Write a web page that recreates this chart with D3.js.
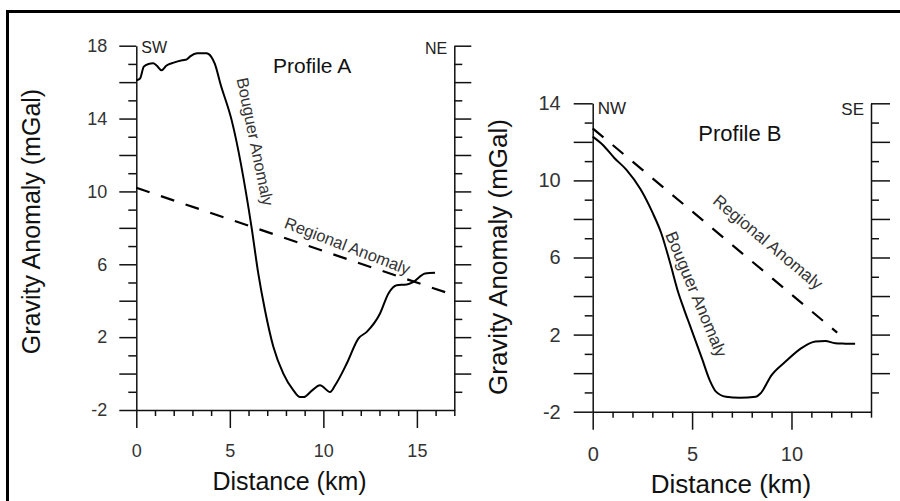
<!DOCTYPE html>
<html>
<head>
<meta charset="utf-8">
<script src="https://cdn.jsdelivr.net/npm/d3@7"></script>
<style>
  body { margin: 0; background: #fff; }
  svg { display: block; font-family: Arial, "Liberation Sans", sans-serif; }
  .tick text { fill: #333; }
</style>
</head>
<body>
<script>
// profile A (SW - NE), distance km / mGal
const bouguerA = [
  [0, 16.1], [0.2, 16.2], [0.4, 16.85], [0.65, 17.0], [0.9, 17.03], [1.1, 16.9],
  [1.35, 16.65], [1.6, 16.9], [2.0, 17.07], [2.45, 17.2], [2.7, 17.25], [2.9, 17.43],
  [3.25, 17.58], [3.75, 17.58], [4.0, 17.4], [4.2, 17.0], [4.5, 15.9], [5.1, 13.9],
  [6.16, 8.04], [6.52, 5.5], [6.88, 3.48], [7.33, 1.46], [7.86, 0.0], [8.4, -0.92],
  [8.75, -1.29], [8.95, -1.29], [9.4, -0.92], [9.82, -0.64], [10.36, -1.01], [10.63, -0.64],
  [11.25, 0.55], [11.87, 1.92], [12.32, 2.29], [13.03, 3.3], [13.48, 4.4], [13.92, 4.85],
  [14.46, 4.89], [14.81, 5.03], [15.44, 5.49], [15.97, 5.53]
];
const regionalA = [[0, 10.2], [17, 4.3]];

// profile B (NW - SE)
const bouguerB = [
  [0, 12.27], [0.5, 11.85], [1.1, 11.15], [1.7, 10.55], [2.4, 9.55], [3.0, 8.35],
  [3.45, 7.26], [3.9, 5.7], [4.3, 4.2], [4.6, 3.3], [4.9, 2.45], [5.5, 0.75],
  [5.9, -0.4], [6.2, -0.96], [6.7, -1.22], [7.4, -1.27], [8.2, -1.22], [8.45, -1.04],
  [9.0, -0.1], [9.7, 0.6], [10.5, 1.3], [11.2, 1.64], [11.7, 1.67], [12.2, 1.55],
  [12.7, 1.53], [13.2, 1.52]
];
const regionalB = [[0, 12.7], [12.3, 2.1]];

const yLabelsA = [-2, 2, 6, 10, 14, 18];
const yLabelsB = [-2, 2, 6, 10, 14];
const xLabelsA = [0, 5, 10, 15];
const xLabelsB = [0, 5, 10];

const svg = d3.select('body').append('svg').attr('width', 900).attr('height', 501);

// frame (only top and left edges show)
svg.append('path').attr('d', 'M7.5,501V11.5H900')
  .attr('fill', 'none').attr('stroke', '#000').attr('stroke-width', 3);

function drawPanel(p) {
  const x = d3.scaleLinear().domain(p.xDom).range(p.xRange);
  const y = d3.scaleLinear().domain(p.yDom).range(p.yRange);
  const g = svg.append('g');

  const yMajor = d3.range(p.yDom[0], p.yDom[1] + 0.1, 2);
  const yMinor = d3.range(p.yDom[0] + 1, p.yDom[1], 2);
  const xMajor = d3.range(0, p.xDom[1] + 0.1, 5);
  const xMinor = d3.range(1, p.xDom[1] + 0.1, 1).filter(d => d % 5 != 0);

  const fmt = labels => d => labels.includes(d) ? String(d) : '';

  // left axis
  g.append('g').attr('transform', `translate(${p.xRange[0]},0)`)
    .call(d3.axisLeft(y).tickValues(yMajor).tickSize(p.major).tickSizeOuter(0)
      .tickPadding(p.yPad).tickFormat(fmt(p.yLabels)))
    .call(a => a.selectAll('text').attr('font-size', p.tickFont));
  g.append('g').attr('transform', `translate(${p.xRange[0]},0)`)
    .call(d3.axisLeft(y).tickValues(yMinor).tickSize(8).tickFormat(''))
    .call(a => a.select('.domain').remove());

  // right axis, no labels
  g.append('g').attr('transform', `translate(${p.xRange[1]},0)`)
    .call(d3.axisRight(y).tickValues(yMajor.filter(d => d > p.yDom[0])).tickSize(p.major).tickSizeOuter(0).tickFormat(''));
  g.append('g').attr('transform', `translate(${p.xRange[1]},0)`)
    .call(d3.axisRight(y).tickValues(yMinor).tickSize(8).tickFormat(''))
    .call(a => a.select('.domain').remove());

  // bottom axis
  g.append('g').attr('transform', `translate(0,${p.yRange[0]})`)
    .call(d3.axisBottom(x).tickValues(xMajor).tickSize(18).tickSizeOuter(0)
      .tickPadding(p.xPad).tickFormat(fmt(p.xLabels)))
    .call(a => a.selectAll('text').attr('font-size', p.tickFont));
  g.append('g').attr('transform', `translate(0,${p.yRange[0]})`)
    .call(d3.axisBottom(x).tickValues(xMinor).tickSize(6).tickFormat(''))
    .call(a => a.select('.domain').remove());

  g.selectAll('.domain, .tick line').attr('stroke', '#111').attr('stroke-width', 1.5);

  const line = d3.line().x(d => x(d[0])).y(d => y(d[1]));

  g.append('path').datum(p.regional).attr('d', line)
    .attr('fill', 'none').attr('stroke', '#000').attr('stroke-width', 2.2)
    .attr('stroke-dasharray', '14,12');
  g.append('path').datum(p.bouguer).attr('d', line.curve(d3.curveMonotoneX))
    .attr('fill', 'none').attr('stroke', '#000').attr('stroke-width', 2);

  // axis titles
  g.append('text').attr('x', p.xTitle[0]).attr('y', p.xTitle[1])
    .attr('text-anchor', 'middle').attr('font-size', p.titleFont).attr('fill', '#111')
    .text('Distance (km)');
  g.append('text').attr('transform', `translate(${p.yTitle[0]},${p.yTitle[1]}) rotate(-90)`)
    .attr('text-anchor', 'middle').attr('font-size', p.titleFont).attr('fill', '#111')
    .text('Gravity Anomaly (mGal)');

  // direction labels and profile name
  g.append('text').attr('x', p.xRange[0] + 5).attr('y', p.dirY)
    .attr('font-size', p.dirFont).attr('fill', '#222').text(p.dirs[0]);
  g.append('text').attr('x', p.xRange[1] - 7).attr('y', p.dirY + 1)
    .attr('text-anchor', 'end').attr('font-size', p.dirFont).attr('fill', '#222').text(p.dirs[1]);
  g.append('text').attr('x', p.name[0]).attr('y', p.name[1])
    .attr('font-size', p.nameFont).attr('fill', '#111').text(p.name[2]);

  // curve annotations
  p.notes.forEach(n => {
    g.append('text').attr('transform', `translate(${n[0]},${n[1]}) rotate(${n[2]})`)
      .attr('font-size', n[3]).attr('fill', '#333').text(n[4]);
  });
}

drawPanel({
  xDom: [0, 17], xRange: [136.3, 454.3],
  yDom: [-2, 18], yRange: [410, 45.7],
  yLabels: yLabelsA, xLabels: xLabelsA,
  bouguer: bouguerA, regional: regionalA,
  major: 17, yPad: 12, xPad: 16, tickFont: 18,
  titleFont: 25, xTitle: [289.5, 490], yTitle: [40, 221.5],
  dirs: ['SW', 'NE'], dirY: 53.3, dirFont: 16,
  name: [273, 73.3, 'Profile A'], nameFont: 21,
  notes: [[236.5, 79, 78.4, 16.5, 'Bouguer Anomaly'], [283.3, 227.4, 21, 16.5, 'Regional Anomaly']]
});

drawPanel({
  xDom: [0, 14], xRange: [592.7, 871],
  yDom: [-2, 14], yRange: [411.7, 103.3],
  yLabels: yLabelsB, xLabels: xLabelsB,
  bouguer: bouguerB, regional: regionalB,
  major: 19, yPad: 13, xPad: 17, tickFont: 20,
  titleFont: 26, xTitle: [731, 493], yTitle: [507, 257],
  dirs: ['NW', 'SE'], dirY: 114, dirFont: 17,
  name: [698.3, 141, 'Profile B'], nameFont: 22,
  notes: [[665, 234.6, 67.3, 17, 'Bouguer Anomaly'], [711.7, 202.5, 40, 17, 'Regional Anomaly']]
});
</script>
</body>
</html>
